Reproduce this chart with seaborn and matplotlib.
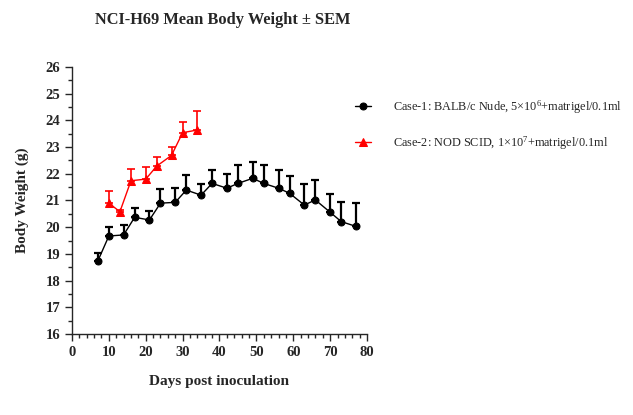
import numpy as np
import pandas as pd
import matplotlib
matplotlib.use('Agg')
import matplotlib.pyplot as plt
import seaborn as sns

# Case-1: BALB/c Nude
days1 = [7, 10, 14, 17, 21, 24, 28, 31, 35, 38, 42, 45, 49, 52, 56, 59, 63, 66, 70, 73, 77]
bw1 = [18.73, 19.67, 19.71, 20.37, 20.27, 20.90, 20.93, 21.39, 21.20, 21.64, 21.46, 21.64,
       21.83, 21.64, 21.46, 21.27, 20.83, 21.02, 20.56, 20.21, 20.03]
sem1 = [0.32, 0.35, 0.36, 0.36, 0.35, 0.54, 0.55, 0.58, 0.43, 0.52, 0.54, 0.70,
        0.62, 0.70, 0.70, 0.63, 0.80, 0.76, 0.69, 0.75, 0.87]

# Case-2: NOD SCID
days2 = [10, 13, 16, 20, 23, 27, 30, 34]
bw2 = [20.90, 20.58, 21.74, 21.80, 22.29, 22.69, 23.54, 23.64]
sem2 = [0.44, 0.05, 0.43, 0.44, 0.33, 0.33, 0.39, 0.72]

labels = ['Case-1: BALB/c Nude, 5\u00d710$^{6}$+matrigel/0.1ml',
          'Case-2: NOD SCID, 1\u00d710$^{7}$+matrigel/0.1ml']

df1 = pd.DataFrame({'day': days1, 'bw': bw1, 'sem': sem1})
df2 = pd.DataFrame({'day': days2, 'bw': bw2, 'sem': sem2})

sns.set_style('ticks')
plt.rcParams['font.family'] = ['Liberation Serif', 'DejaVu Serif']
plt.rcParams['mathtext.fontset'] = 'custom'
plt.rcParams['mathtext.rm'] = 'Liberation Serif'
plt.rcParams['mathtext.it'] = 'Liberation Serif'

fig = plt.figure(figsize=(6.33, 4.15), dpi=100)
ax = fig.add_axes([0.1137, 0.1952, 0.4661, 0.6434])

ax.errorbar(df1['day'], df1['bw'], yerr=[np.zeros(len(df1)), df1['sem']], fmt='none',
            ecolor='black', elinewidth=1.6, capsize=3, capthick=1.6)
ax.errorbar(df2['day'], df2['bw'], yerr=[np.zeros(len(df2)), df2['sem']], fmt='none',
            ecolor='red', elinewidth=1.2, capsize=3, capthick=1.2)

sns.lineplot(data=df1, x='day', y='bw', ax=ax, color='black', marker='o', markersize=5,
             markeredgecolor='black', linewidth=1, label=labels[0])
sns.lineplot(data=df2, x='day', y='bw', ax=ax, color='red', marker='^', markersize=6,
             markeredgecolor='red', linewidth=1, label=labels[1])

ax.set_xlim(0, 80)
ax.set_ylim(16, 26)
ax.set_xticks(range(0, 81, 10))
ax.set_yticks(range(16, 27))
ax.set_xticks(np.arange(0, 81, 2), minor=True)
ax.set_yticks(np.arange(16, 26.01, 0.5), minor=True)
ax.tick_params(which='major', direction='out', length=5, width=1, labelsize=10.5)
ax.tick_params(which='minor', direction='out', length=3, width=1)
for lab in ax.get_xticklabels() + ax.get_yticklabels():
    lab.set_fontweight('bold')
for s in ['top', 'right']:
    ax.spines[s].set_visible(False)
for s in ['left', 'bottom']:
    ax.spines[s].set_linewidth(1)

ax.set_xlabel('Days post inoculation', fontsize=11, fontweight='bold', labelpad=12)
ax.set_ylabel('Body Weight (g)', fontsize=11, fontweight='bold', labelpad=12)
fig.text(0.150, 0.952, 'NCI-H69 Mean Body Weight \u00b1 SEM', fontsize=11.8, fontweight='bold',
         ha='left', va='center')

ax.legend_.remove()
h, l = ax.get_legend_handles_labels()
fig.legend(h, l, loc='upper left', bbox_to_anchor=(0.544, 0.79), frameon=False,
           fontsize=8.8, handlelength=1.3, handletextpad=1.8, labelspacing=1.5)

fig.savefig('out.png', dpi=100)
